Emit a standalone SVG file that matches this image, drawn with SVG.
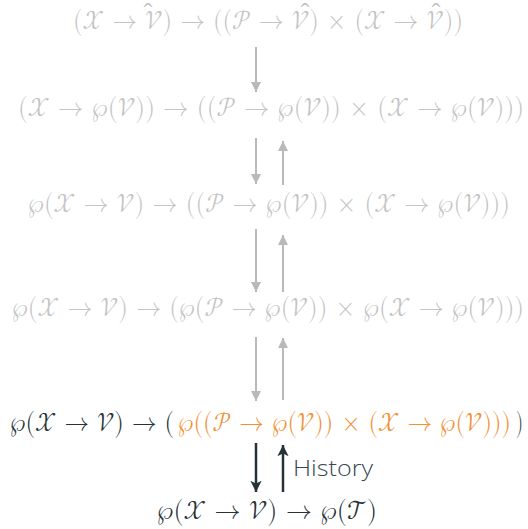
<svg xmlns="http://www.w3.org/2000/svg" width="528" height="529" viewBox="0 0 528 529">
<style>
.m{font-family:"Latin Modern Math","STIX Two Math","DejaVu Serif","Liberation Serif",serif;font-size:27px}
.g{fill:#c4c4c4}
.d{fill:#263238}
.o{fill:#f39033}
.hat{font-family:"Liberation Serif",serif;font-size:27px;fill:#c4c4c4;text-anchor:middle}
.lg{stroke:#b9b9b9;stroke-width:2;fill:none}
.ld{stroke:#263238;stroke-width:2.5;fill:none}
.h{font-family:"Open Sans","Noto Sans",sans-serif;font-size:22px;font-weight:300;fill:#37474f}
</style>
<defs>
<marker id="ag" viewBox="0 0 10 10" refX="10" refY="5" markerWidth="5" markerHeight="6" markerUnits="strokeWidth" orient="auto"><path d="M0,0 L10,5 L0,10 z" fill="#b9b9b9"/></marker>
<marker id="ad" viewBox="0 0 10 10" refX="10" refY="5" markerWidth="4.5" markerHeight="5" markerUnits="strokeWidth" orient="auto"><path d="M0,0 L10,5 L0,10 L2.5,5 z" fill="#263238"/></marker>
</defs>
<g id="n1"><text class="m g" x="73" y="29" textLength="390" lengthAdjust="spacingAndGlyphs">(𝒳 → 𝒱) → ((𝒫 → 𝒱) × (𝒳 → 𝒱))</text>
<text class="hat" x="148" y="22">ˆ</text><text class="hat" x="305" y="22">ˆ</text><text class="hat" x="436" y="22">ˆ</text></g>
<g id="n2"><text class="m g" x="18" y="116" textLength="506" lengthAdjust="spacingAndGlyphs">(𝒳 → ℘(𝒱)) → ((𝒫 → ℘(𝒱)) × (𝒳 → ℘(𝒱)))</text></g>
<g id="n3"><text class="m g" x="28" y="212" textLength="482" lengthAdjust="spacingAndGlyphs">℘(𝒳 → 𝒱) → ((𝒫 → ℘(𝒱)) × (𝒳 → ℘(𝒱)))</text></g>
<g id="n4"><text class="m g" x="12" y="316" textLength="512" lengthAdjust="spacingAndGlyphs">℘(𝒳 → 𝒱) → (℘(𝒫 → ℘(𝒱)) × ℘(𝒳 → ℘(𝒱)))</text></g>
<g id="n5">
<text class="m d" x="10" y="431" textLength="164" lengthAdjust="spacingAndGlyphs">℘(𝒳 → 𝒱) → (</text>
<text class="m o" x="178" y="431" textLength="333" lengthAdjust="spacingAndGlyphs">℘((𝒫 → ℘(𝒱)) × (𝒳 → ℘(𝒱)))</text>
<text class="m d" x="516" y="431" textLength="7" lengthAdjust="spacingAndGlyphs">)</text>
</g>
<g id="n6"><text class="m d" x="157" y="519" textLength="220" lengthAdjust="spacingAndGlyphs">℘(𝒳 → 𝒱) → ℘(𝒯)</text></g>
<g id="connectors">
<line class="lg" x1="256" y1="47" x2="256" y2="92" marker-end="url(#ag)"/>
<line class="lg" x1="256" y1="138" x2="256" y2="184" marker-end="url(#ag)"/>
<line class="lg" x1="283" y1="185" x2="283" y2="141" marker-end="url(#ag)"/>
<line class="lg" x1="256" y1="229" x2="256" y2="292" marker-end="url(#ag)"/>
<line class="lg" x1="283" y1="292" x2="283" y2="235" marker-end="url(#ag)"/>
<line class="lg" x1="256" y1="337" x2="256" y2="401" marker-end="url(#ag)"/>
<line class="lg" x1="283" y1="400" x2="283" y2="338" marker-end="url(#ag)"/>
<line class="ld" x1="256" y1="443" x2="256" y2="492" marker-end="url(#ad)"/>
<line class="ld" x1="283" y1="492" x2="283" y2="445" marker-end="url(#ad)"/>
<text class="h" x="293" y="476" textLength="80" lengthAdjust="spacingAndGlyphs">History</text>
</g>
</svg>
